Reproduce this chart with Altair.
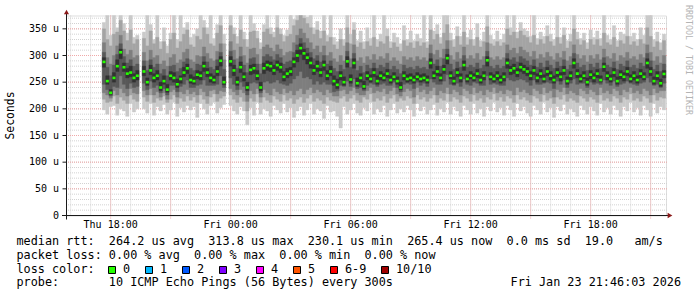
import altair as alt
import pandas as pd

# ---------------- data (values in microseconds, one sample every 10 minutes from Thu 17:40) ----------------
median = [288, 252, 230.1, 258, 280, 306, 278, 266, 268, 258, 262,
          None,
          270, 250, 272, 258, 262, 240, 252, 236, 262, 258, 246, 256, 268,
          276, 254, 252, 264, 262, 280, 268, 258, 254, 270, 290, 250,
          None,
          289, 272, 250, 278, 260, 240, 273, 276, 262, 240,
          276, 282, 280, 272, 282, 278, 260, 266, 270, 288,
          300, 313.8, 304, 296, 286, 272, 280, 268, 282, 262,
          270, 252, 245, 262, 250, 289, 255, 286, 248, 258,
          242, 262, 256, 268, 252, 262, 258, 266, 254, 260,
          252, 240, 262, 256, 258, 254, 260, 256, 258, 254,
          286, 262, 270, 258, 274, 295, 262, 252, 268, 258,
          282, 256, 262, 258, 266, 254, 262, 291, 260, 256,
          262, 254, 260, 286, 272, 276, 268, 278, 274, 270,
          262, 272, 258, 266, 256, 270, 262, 254, 268, 260,
          272, 252, 262, 286, 266, 256, 262, 250, 264, 258,
          266, 254, 279, 262, 256, 268, 252, 264, 260, 270,
          256, 262, 254, 266, 260, 286, 270, 252, 262, 248,
          265.4]

ping1 = [198, 190, 204, 206, 188, 200, 196, 186, 210, 194, 200,
         None,
         200, 192, 210, 188, 204, 196, 208, 190, 198, 212, 186, 202, 194,
         206, 198, 204, 184, 210, 200, 190, 206, 212, 192, 202, 208,
         None,
         206, 196, 190, 204, 196, 170, 202, 188, 212, 190,
         200, 196, 186, 206, 198, 192, 210, 194, 202, 184,
         196, 204, 188, 198, 210, 190, 200, 196, 182, 206,
         194, 196, 186, 164, 204, 190, 198, 210, 192, 188,
         202, 196, 212, 190, 200, 194, 206, 186, 198, 210,
         192, 200, 194, 206, 198, 186, 210, 196, 204, 190,
         198, 208, 188, 200, 194, 212, 190, 204, 196, 186,
         206, 198, 190, 210, 192, 200, 186, 204, 196, 212,
         194, 202, 188, 206, 198, 186, 210, 196, 204, 192,
         186, 206, 198, 190, 212, 194, 202, 184, 204, 196,
         208, 190, 200, 194, 186, 206, 198, 190, 204, 196,
         188, 210, 194, 202, 190, 206, 198, 186, 204, 196,
         212, 194, 202, 188, 206, 198, 186, 210, 192, 204,
         198]

ping2 = [218, 212, 214, 224, 210, 222, 216, 210, 226, 218, 214,
         None,
         222, 214, 226, 212, 220, 216, 224, 212, 218, 226, 210, 220, 214,
         224, 216, 222, 212, 226, 218, 210, 222, 228, 214, 220, 224,
         None,
         226, 218, 212, 222, 214, 196, 220, 214, 228, 212,
         222, 216, 212, 224, 218, 214, 226, 216, 220, 210,
         218, 222, 212, 220, 226, 214, 220, 216, 210, 222,
         216, 214, 212, 220, 224, 214, 220, 226, 216, 212,
         222, 218, 228, 214, 220, 216, 224, 212, 220, 226,
         214, 220, 216, 224, 220, 210, 226, 218, 222, 214,
         220, 226, 212, 220, 216, 228, 214, 222, 218, 212,
         224, 220, 214, 226, 216, 220, 212, 222, 218, 228,
         216, 222, 214, 224, 220, 212, 226, 218, 222, 216,
         212, 224, 220, 214, 226, 216, 220, 210, 222, 218,
         226, 214, 220, 216, 212, 224, 220, 214, 222, 218,
         212, 226, 216, 220, 214, 224, 220, 212, 222, 218,
         228, 216, 220, 214, 224, 220, 212, 226, 216, 222,
         220]

ping3 = [230, 226, 220, 234, 226, 238, 230, 224, 238, 230, 228,
         None,
         234, 226, 238, 226, 232, 222, 230, 218, 232, 236, 222, 232, 228,
         236, 228, 232, 226, 238, 232, 224, 234, 236, 228, 234, 232,
         None,
         238, 232, 226, 236, 230, 214, 234, 228, 238, 222,
         236, 230, 226, 238, 232, 228, 238, 230, 234, 226,
         234, 238, 228, 236, 240, 230, 236, 232, 226, 236,
         230, 224, 224, 234, 236, 228, 234, 240, 230, 226,
         226, 234, 240, 230, 234, 232, 238, 228, 234, 240,
         228, 224, 232, 238, 234, 222, 240, 232, 236, 228,
         234, 240, 226, 234, 230, 240, 228, 236, 232, 226,
         238, 234, 228, 240, 230, 234, 226, 236, 232, 240,
         230, 234, 228, 236, 234, 226, 240, 232, 236, 230,
         226, 238, 234, 228, 240, 230, 234, 222, 236, 232,
         240, 228, 234, 230, 226, 238, 234, 228, 236, 232,
         226, 240, 230, 234, 228, 238, 234, 226, 236, 232,
         240, 230, 234, 228, 238, 234, 226, 238, 230, 234,
         234]

ping4 = [246, 236, 224, 242, 240, 262, 246, 238, 248, 240, 242,
         None,
         248, 236, 252, 240, 244, 230, 238, 226, 244, 244, 232, 242, 246,
         254, 240, 240, 244, 246, 254, 244, 244, 244, 246, 262, 240,
         None,
         258, 246, 236, 250, 242, 226, 248, 250, 248, 230,
         250, 252, 248, 250, 254, 248, 246, 244, 248, 256,
         262, 270, 258, 260, 256, 246, 252, 246, 250, 246,
         246, 232, 234, 244, 242, 252, 242, 256, 238, 240,
         234, 244, 248, 246, 242, 246, 248, 244, 244, 250,
         240, 232, 246, 248, 246, 238, 250, 244, 248, 242,
         256, 250, 246, 246, 252, 264, 246, 244, 248, 242,
         256, 246, 244, 250, 248, 244, 244, 262, 246, 248,
         246, 244, 244, 258, 254, 252, 254, 256, 254, 250,
         244, 254, 246, 246, 248, 250, 248, 238, 252, 246,
         254, 240, 248, 256, 246, 248, 248, 240, 250, 246,
         248, 246, 254, 248, 244, 252, 242, 246, 248, 252,
         248, 246, 244, 248, 250, 258, 250, 244, 246, 240,
         248]

ping5 = [278, 246, 227, 250, 270, 294, 270, 258, 260, 250, 254,
         None,
         262, 244, 264, 250, 254, 234, 246, 231, 254, 250, 240, 248, 260,
         266, 248, 246, 256, 254, 270, 260, 250, 248, 262, 280, 245,
         None,
         280, 262, 244, 268, 252, 234, 264, 266, 254, 234,
         266, 272, 270, 264, 272, 268, 252, 258, 262, 278,
         288, 302, 292, 284, 276, 264, 270, 260, 272, 254,
         262, 244, 238, 254, 244, 278, 248, 276, 242, 250,
         237, 254, 250, 260, 246, 254, 252, 258, 248, 254,
         246, 236, 254, 250, 252, 248, 254, 250, 252, 248,
         276, 256, 262, 252, 266, 284, 256, 246, 260, 250,
         272, 250, 256, 252, 258, 248, 254, 280, 254, 250,
         254, 248, 252, 276, 264, 266, 260, 270, 266, 262,
         254, 264, 250, 258, 250, 262, 254, 248, 260, 252,
         264, 246, 254, 276, 258, 250, 256, 244, 256, 250,
         258, 250, 270, 254, 250, 260, 246, 256, 252, 262,
         250, 254, 248, 258, 254, 276, 262, 246, 254, 242,
         258]

ping6 = [296, 262, 236, 268, 292, 312, 286, 276, 280, 266, 272,
         None,
         280, 258, 282, 266, 272, 250, 262, 246, 270, 268, 256, 262, 278,
         284, 264, 260, 272, 270, 288, 276, 266, 262, 280, 298, 260,
         None,
         298, 282, 260, 288, 268, 250, 282, 284, 272, 250,
         286, 290, 288, 282, 290, 286, 270, 276, 278, 296,
         310, 322, 312, 304, 296, 282, 290, 276, 290, 272,
         280, 262, 256, 270, 260, 298, 264, 294, 258, 266,
         252, 270, 264, 276, 262, 270, 266, 274, 262, 268,
         260, 250, 270, 264, 266, 262, 268, 264, 266, 262,
         294, 270, 280, 266, 282, 302, 270, 260, 276, 266,
         290, 264, 270, 266, 274, 262, 270, 298, 268, 264,
         270, 262, 268, 294, 280, 284, 276, 286, 282, 278,
         270, 280, 266, 274, 264, 278, 270, 262, 276, 268,
         280, 260, 270, 294, 274, 264, 270, 258, 272, 266,
         274, 262, 286, 270, 264, 276, 260, 272, 268, 278,
         264, 270, 262, 274, 268, 294, 278, 260, 270, 256,
         272]

ping7 = [306, 278, 262, 282, 302, 322, 298, 286, 292, 280, 284,
         None,
         290, 272, 292, 278, 284, 266, 274, 262, 280, 282, 270, 276, 288,
         294, 276, 272, 284, 282, 298, 288, 278, 274, 292, 306, 274,
         None,
         308, 292, 276, 298, 282, 268, 294, 296, 284, 266,
         298, 302, 298, 292, 302, 296, 284, 288, 290, 306,
         320, 332, 324, 314, 306, 294, 300, 288, 300, 284,
         290, 276, 270, 282, 274, 308, 278, 304, 272, 280,
         268, 282, 276, 286, 276, 282, 278, 286, 274, 280,
         274, 266, 282, 276, 278, 274, 280, 276, 278, 274,
         304, 284, 292, 280, 294, 312, 284, 274, 288, 278,
         300, 278, 282, 278, 286, 276, 282, 308, 280, 276,
         282, 276, 280, 304, 292, 296, 288, 298, 294, 290,
         282, 292, 278, 286, 278, 290, 282, 276, 288, 280,
         292, 274, 282, 304, 286, 278, 282, 272, 284, 278,
         286, 276, 296, 282, 278, 288, 274, 284, 280, 290,
         278, 282, 276, 286, 280, 304, 290, 274, 282, 270,
         284]

ping8 = [324, 296, 284, 300, 318, 338, 312, 302, 310, 296, 300,
         None,
         306, 290, 310, 296, 300, 284, 290, 280, 296, 302, 286, 292, 306,
         312, 292, 288, 300, 298, 316, 304, 294, 290, 308, 322, 292,
         None,
         326, 310, 294, 316, 300, 286, 312, 314, 302, 284,
         316, 320, 314, 308, 320, 312, 300, 306, 308, 324,
         338, 350, 342, 332, 324, 312, 318, 306, 318, 300,
         306, 294, 288, 300, 290, 324, 294, 320, 290, 296,
         286, 298, 292, 302, 292, 298, 294, 304, 290, 296,
         290, 284, 298, 292, 296, 290, 298, 292, 296, 290,
         320, 302, 310, 296, 312, 328, 300, 292, 306, 294,
         316, 294, 300, 294, 304, 292, 298, 324, 296, 292,
         298, 292, 296, 320, 310, 314, 304, 316, 310, 306,
         298, 308, 294, 302, 296, 306, 298, 292, 304, 296,
         308, 290, 298, 320, 302, 294, 300, 288, 300, 294,
         302, 292, 312, 298, 294, 304, 290, 300, 296, 306,
         294, 298, 292, 302, 296, 320, 306, 290, 298, 286,
         300]

ping9 = [350, 330, 318, 340, 344, 366, 346, 328, 348, 322, 330,
         None,
         332, 318, 346, 322, 334, 312, 326, 304, 330, 342, 314, 326, 340,
         348, 320, 316, 336, 330, 352, 340, 322, 318, 342, 356, 322,
         None,
         356, 340, 322, 348, 330, 316, 344, 346, 332, 312,
         344, 350, 340, 334, 352, 340, 326, 336, 340, 356,
         366, 375, 370, 360, 352, 340, 348, 332, 346, 326,
         334, 320, 312, 330, 318, 352, 322, 348, 316, 324,
         312, 326, 318, 334, 316, 326, 322, 336, 314, 324,
         316, 308, 328, 318, 324, 314, 326, 318, 324, 314,
         348, 330, 340, 322, 342, 358, 328, 316, 336, 320,
         344, 320, 330, 318, 334, 316, 326, 354, 322, 318,
         326, 318, 324, 350, 338, 344, 332, 346, 338, 334,
         324, 338, 320, 330, 322, 336, 326, 318, 334, 322,
         338, 314, 326, 350, 330, 320, 328, 312, 330, 320,
         330, 318, 342, 324, 320, 334, 316, 328, 322, 336,
         320, 326, 318, 330, 322, 352, 336, 316, 326, 310,
         328]

ping10 = [362, 375, 338, 375, 352, 375, 360, 342, 375, 334, 338,
          None,
          344, 375, 358, 330, 375, 326, 352, 318, 342, 375, 330, 375, 352,
          362, 334, 340, 350, 375, 366, 352, 375, 332, 358, 375, 340,
          None,
          375, 352, 336, 375, 344, 330, 375, 360, 346, 324,
          358, 375, 352, 344, 375, 350, 338, 348, 375, 368,
          375, 375, 375, 372, 375, 352, 364, 346, 375, 338,
          375, 334, 326, 350, 330, 375, 340, 362, 328, 346,
          326, 352, 332, 375, 330, 340, 375, 350, 326, 342,
          334, 322, 356, 330, 346, 328, 340, 332, 375, 326,
          375, 346, 358, 334, 375, 375, 342, 330, 354, 336,
          375, 334, 348, 330, 360, 328, 344, 375, 338, 330,
          346, 330, 340, 375, 352, 375, 344, 362, 350, 346,
          336, 375, 332, 344, 336, 356, 340, 330, 375, 334,
          352, 328, 340, 375, 344, 332, 342, 324, 348, 334,
          346, 332, 375, 338, 330, 356, 328, 344, 340, 375,
          336, 342, 330, 352, 338, 375, 375, 330, 344, 324,
          340]

first_sample_hour = 17 + 40 / 60          # Thu 17:40, hours since Thu 00:00
step_hours = 10 / 60
x_start = 15 + 46 / 60 + 3 / 3600         # Thu 15:46:03
x_end = x_start + 30                      # Fri 21:46:03

x_tick_hours = [18, 24, 30, 36, 42]
x_tick_labels = ["Thu 18:00", "Fri 00:00", "Fri 06:00", "Fri 12:00", "Fri 18:00"]
y_tick_values = [0, 50, 100, 150, 200, 250, 300, 350]
y_tick_labels = ["0  ", "50 u", "100 u", "150 u", "200 u", "250 u", "300 u", "350 u"]

smoke_colors = ["#cacaca", "#a4a4a4", "#7e7e7e", "#585858", "#323232"]
loss_labels = ["0", "1", "2", "3", "4", "5", "6-9", "10/10"]
loss_colors = ["#26ff00", "#00b8ff", "#0059ff", "#7e00ff", "#ff00ff", "#ff5500", "#ff0000", "#a00000"]

line_rtt = "median rtt:  264.2 us avg  313.8 us max  230.1 us min  265.4 us now  0.0 ms sd  19.0   am/s"
line_loss = "packet loss: 0.00 % avg  0.00 % max  0.00 % min  0.00 % now"
line_color = "loss color:"
line_probe = "probe:       10 ICMP Echo Pings (56 Bytes) every 300s"
line_date = "Fri Jan 23 21:46:03 2026"
y_title = "Seconds"
side_text = "RRDTOOL / TOBI OETIKER"

# ---------------- tables ----------------
pings = [ping1, ping2, ping3, ping4, ping5, ping6, ping7, ping8, ping9, ping10]
for arr in pings:
    assert len(arr) == len(median)

rows = []
for i, m in enumerate(median):
    if m is None:
        continue
    t = first_sample_hour + i * step_hours
    r = {"t": t, "t0": t - step_hours / 2, "t1": t + step_hours / 2, "median": m}
    for k, arr in enumerate(pings):
        r[f"p{k + 1}"] = arr[i]
    rows.append(r)
df = pd.DataFrame(rows)

minor_v = pd.DataFrame({"h": list(range(16, 46))})
major_v = pd.DataFrame({"h": list(range(18, 46, 3))})
minor_h = pd.DataFrame({"v": list(range(10, 375, 10))})
major_h = pd.DataFrame({"v": list(range(50, 375, 50))})
xt = pd.DataFrame({"h": x_tick_hours, "label": x_tick_labels})
yt = pd.DataFrame({"v": y_tick_values,
                   "label": [s.replace(" ", "\u00a0") for s in y_tick_labels]})

MONO = "DejaVu Sans Mono"
xs = alt.Scale(domain=[x_start, x_end], nice=False, zero=False)
ys = alt.Scale(domain=[0, 375], nice=False, zero=False)
one = alt.Data(values=[{"a": 1}])

layers = []
# grid
layers.append(alt.Chart(minor_h).mark_rule(color="#d2d2d2", strokeDash=[1, 1], strokeWidth=1).encode(
    y=alt.Y("v:Q", scale=ys, axis=None), x=alt.value(0), x2=alt.value(602)))
layers.append(alt.Chart(minor_v).mark_rule(color="#d2d2d2", strokeDash=[1, 1], strokeWidth=1).encode(
    x=alt.X("h:Q", scale=xs, axis=None), y=alt.value(0), y2=alt.value(200)))
layers.append(alt.Chart(major_h).mark_rule(color="#f0a8a8", strokeDash=[1, 1], strokeWidth=1).encode(
    y=alt.Y("v:Q", scale=ys, axis=None), x=alt.value(0), x2=alt.value(602)))
layers.append(alt.Chart(major_v).mark_rule(color="#f0a8a8", strokeDash=[1, 1], strokeWidth=1).encode(
    x=alt.X("h:Q", scale=xs, axis=None), y=alt.value(0), y2=alt.value(203)))

# smoke bands (pairs of pings around the median)
for b in range(5):
    lo, hi = f"p{b + 1}", f"p{10 - b}"
    c = smoke_colors[b]
    layers.append(alt.Chart(df).mark_rect(color=c, stroke=c, strokeWidth=0.4).encode(
        x=alt.X("t0:Q", scale=xs, axis=None), x2="t1:Q",
        y=alt.Y(f"{lo}:Q", scale=ys, axis=None), y2=f"{hi}:Q"))

# median marks
layers.append(alt.Chart(df).mark_tick(orient="horizontal", thickness=2.6, size=3,
                                      color=loss_colors[0], opacity=1).encode(
    x=alt.X("t:Q", scale=xs, axis=None), y=alt.Y("median:Q", scale=ys, axis=None)))

# axes
layers.append(alt.Chart(one).mark_rule(color="#1a1a1a", strokeWidth=1).encode(
    x=alt.value(-4), x2=alt.value(603), y=alt.value(200)))
layers.append(alt.Chart(one).mark_rule(color="#1a1a1a", strokeWidth=1).encode(
    x=alt.value(0.5), y=alt.value(-4), y2=alt.value(204)))
layers.append(alt.Chart(major_h).mark_rule(color="#1a1a1a").encode(
    y=alt.Y("v:Q", scale=ys, axis=None), x=alt.value(-3.5), x2=alt.value(0.5)))
layers.append(alt.Chart(one).mark_point(shape="triangle-up", filled=True, size=26, color="#8b1a1a",
                                        opacity=1, strokeWidth=0).encode(
    x=alt.value(0.5), y=alt.value(-3.5)))
layers.append(alt.Chart(one).mark_point(shape="triangle-right", filled=True, size=30, color="#8b1a1a",
                                        opacity=1, strokeWidth=0).encode(
    x=alt.value(604), y=alt.value(200)))

# tick labels
layers.append(alt.Chart(xt).mark_text(font=MONO, fontSize=10, color="black", align="center",
                                      baseline="alphabetic").encode(
    x=alt.X("h:Q", scale=xs, axis=None), y=alt.value(212.5), text="label:N"))
layers.append(alt.Chart(yt).mark_text(font=MONO, fontSize=10, color="black", align="right",
                                      baseline="middle").encode(
    y=alt.Y("v:Q", scale=ys, axis=None), x=alt.value(-7), text="label:N"))


def text_layer(s, x, y, align="left", size=11.8, color="black", angle=0, baseline="alphabetic"):
    return alt.Chart(one).mark_text(text=s.replace(" ", "\u00a0"), font=MONO, fontSize=size, color=color,
                                    align=align, baseline=baseline, angle=angle).encode(
        x=alt.value(x), y=alt.value(y))


layers.append(text_layer(y_title, -55, 100, align="center", size=11.4, angle=270, baseline="middle"))
layers.append(text_layer(side_text, 622, 44.5, align="center", size=8.3, color="#b4b4b4", angle=90,
                         baseline="middle"))
layers.append(text_layer(line_rtt, -49.5, 229.5))
layers.append(text_layer(line_loss, -49.5, 243.2))
layers.append(text_layer(line_color, -49.5, 257))
layers.append(text_layer(line_probe, -49.5, 270.8))
layers.append(text_layer(line_date, 615, 270.8, align="right"))

# loss colour legend boxes
for i, (lab, col) in enumerate(zip(loss_labels, loss_colors)):
    bx = 42.5 + 37 * i if i < 7 else 315.5
    layers.append(alt.Chart(one).mark_rect(color=col, stroke="black", strokeWidth=1).encode(
        x=alt.value(bx), x2=alt.value(bx + 7), y=alt.value(251), y2=alt.value(258)))
    layers.append(text_layer(lab, bx + 14.5, 257))

chart = alt.layer(*layers).properties(
    width=600, height=200,
    padding={"left": 66, "top": 15.5, "right": 31, "bottom": 81.5},
    autosize=alt.AutoSizeParams(type="none"),
).configure_view(stroke=None).configure(background="white")

chart.save("out.html", embed_options={"renderer": "svg", "actions": False})
